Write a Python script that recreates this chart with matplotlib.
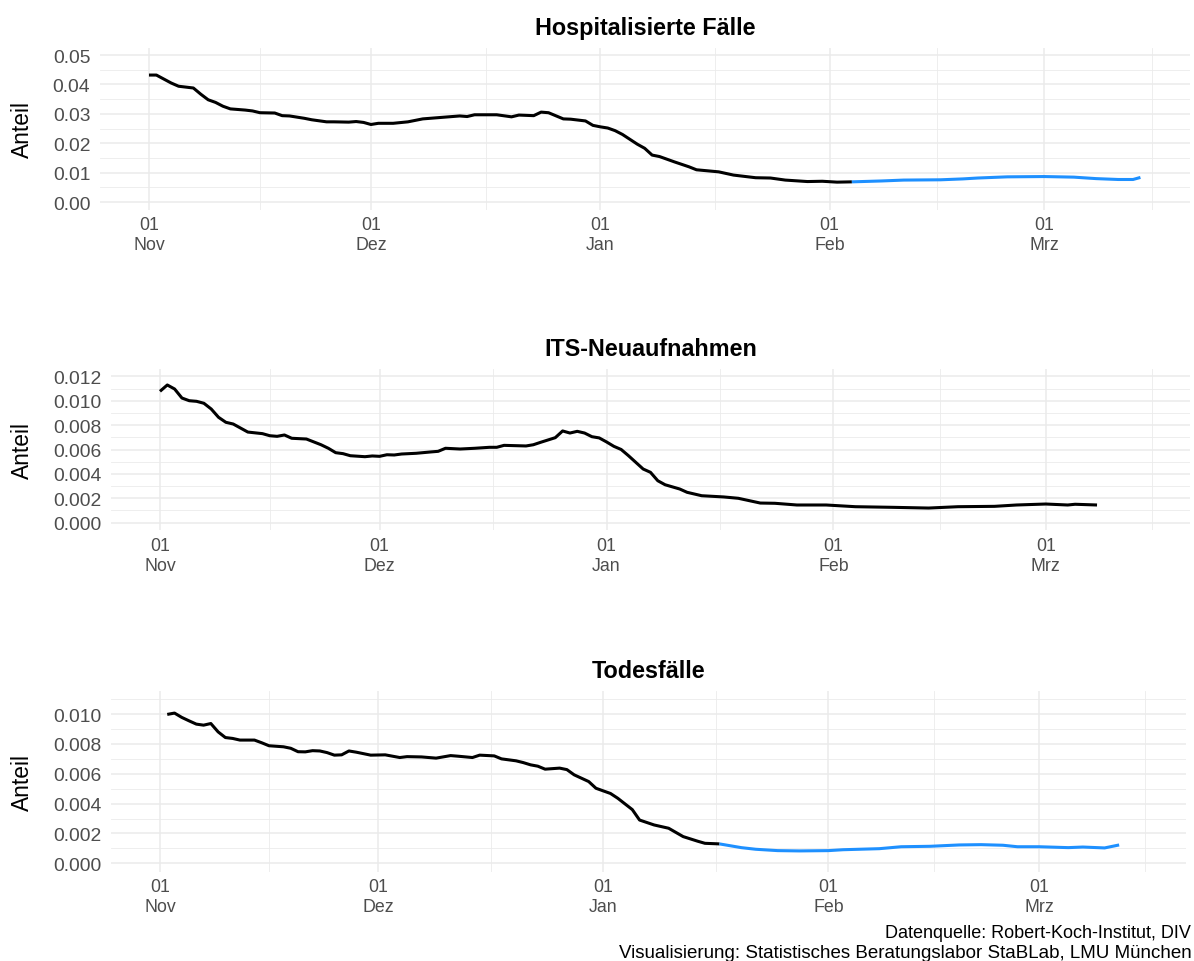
import numpy as np
import matplotlib
matplotlib.use("Agg")
import matplotlib.pyplot as plt
import matplotlib.dates as mdates
from matplotlib.ticker import FixedLocator, FixedFormatter

plt.rcParams['font.family'] = ['Liberation Sans', 'DejaVu Sans']

# ---------------- data (day offsets from START) -------------
START = np.datetime64('2023-11-01')

HOSP_DAYS = [0, 1, 3, 4, 6, 7, 8, 9, 10, 11, 13, 14, 15, 17, 18, 19, 21, 22, 24, 25,
             27, 28, 29, 30, 31, 33, 35, 37, 39, 40, 42, 43, 44, 47, 49, 50, 52, 53, 54,
             56, 57, 59, 60, 61, 62, 63, 64, 66, 67, 68, 69, 71, 73, 74, 77, 79, 82, 84,
             86, 89, 91, 93, 95]
HOSP_VALS = [0.0432, 0.0432, 0.0405, 0.0394, 0.0388, 0.0367, 0.0348, 0.0339, 0.0326, 0.0317,
             0.0313, 0.0310, 0.0304, 0.0303, 0.0294, 0.0293, 0.0285, 0.0280, 0.0273, 0.0273,
             0.0272, 0.0274, 0.0271, 0.0264, 0.0268, 0.0268, 0.0273, 0.0283, 0.0287, 0.0289,
             0.0293, 0.0291, 0.0297, 0.0297, 0.0290, 0.0296, 0.0294, 0.0306, 0.0304,
             0.0283, 0.0282, 0.0276, 0.0261, 0.0256, 0.0252, 0.0243, 0.0230, 0.0197, 0.0183,
             0.0160, 0.0155, 0.0137, 0.0120, 0.0110, 0.0103, 0.0092, 0.0083, 0.0082,
             0.0075, 0.0070, 0.0071, 0.0068, 0.0069]
HOSP_NOW_DAYS = [95, 99, 102, 107, 110, 112, 116, 121, 125, 128, 131, 133, 134]
HOSP_NOW_VALS = [0.0069, 0.0072, 0.0075, 0.0076, 0.0079, 0.0082, 0.0086, 0.0087, 0.0085,
                 0.0080, 0.0077, 0.0077, 0.0084]

ITS_DAYS = [0, 1, 2, 3, 4, 5, 6, 7, 8, 9, 10, 11, 12, 14, 15, 16, 17, 18, 20, 22, 23, 24,
            25, 26, 28, 29, 30, 31, 32, 33, 35, 37, 38, 39, 41, 43, 45, 46, 47, 50, 51, 52,
            54, 55, 56, 57, 58, 59, 60, 61, 62, 63, 64, 66, 67, 68, 69, 71, 72, 74, 77,
            79, 82, 84, 87, 91, 95, 100, 105, 109, 114, 117, 121, 124, 125, 128]
ITS_VALS = [0.01077, 0.01129, 0.01096, 0.01022, 0.01000, 0.00995, 0.00979, 0.00932, 0.00864,
            0.00823, 0.00809, 0.00776, 0.00743, 0.00730, 0.00713, 0.00708, 0.00719, 0.00692,
            0.00686, 0.00639, 0.00610, 0.00574, 0.00566, 0.00549, 0.00541, 0.00547, 0.00544,
            0.00557, 0.00555, 0.00563, 0.00569, 0.00580, 0.00585, 0.00610, 0.00604, 0.00610,
            0.00618, 0.00618, 0.00634, 0.00629, 0.00639, 0.00659, 0.00697, 0.00752, 0.00735,
            0.00749, 0.00735, 0.00705, 0.00695, 0.00662, 0.00626, 0.00600, 0.00549, 0.00440,
            0.00413, 0.00344, 0.00311, 0.00276, 0.00249, 0.00221, 0.00211, 0.00200, 0.00161,
            0.00159, 0.00145, 0.00145, 0.00131, 0.00126, 0.00120, 0.00131, 0.00134, 0.00145,
            0.00153, 0.00145, 0.00151, 0.00145]

DEATH_DAYS = [1, 2, 3, 4, 5, 6, 7, 8, 9, 10, 11, 13, 14, 15, 17, 18, 19, 20, 21, 22, 23, 24,
              25, 26, 27, 29, 31, 33, 34, 36, 38, 40, 41, 43, 44, 46, 47, 49, 50, 51, 52, 53,
              55, 56, 57, 59, 60, 62, 63, 65, 66, 68, 70, 72, 74, 75, 77]
DEATH_VALS = [0.00998, 0.01007, 0.00978, 0.00955, 0.00933, 0.00926, 0.00937, 0.00881,
              0.00843, 0.00837, 0.00826, 0.00826, 0.00808, 0.00788, 0.00781, 0.00771,
              0.00748, 0.00747, 0.00755, 0.00753, 0.00742, 0.00725, 0.00727, 0.00753,
              0.00745, 0.00725, 0.00727, 0.00709, 0.00715, 0.00713, 0.00705, 0.00722,
              0.00718, 0.00709, 0.00725, 0.00720, 0.00700, 0.00687, 0.00675, 0.00660,
              0.00651, 0.00631, 0.00638, 0.00628, 0.00593, 0.00548, 0.00503, 0.00468,
              0.00436, 0.00360, 0.00290, 0.00257, 0.00235, 0.00179, 0.00148, 0.00134, 0.00130]
DEATH_NOW_DAYS = [77, 80, 82, 85, 88, 92, 94, 99, 102, 106, 110, 113, 116, 118, 121, 125,
                  127, 130, 132]
DEATH_NOW_VALS = [0.00130, 0.00105, 0.00094, 0.00085, 0.00083, 0.00085, 0.00091, 0.00098,
                  0.00111, 0.00114, 0.00123, 0.00125, 0.00121, 0.00111, 0.00111, 0.00105,
                  0.00109, 0.00103, 0.00123]

TITLES = ["Hospitalisierte Fälle", "ITS-Neuaufnahmen", "Todesfälle"]
Y_LABEL = "Anteil"
MAJOR_DATES = ['2023-11-01', '2023-12-01', '2024-01-01', '2024-02-01', '2024-03-01']
MAJOR_LABELS = ["01\nNov", "01\nDez", "01\nJan", "01\nFeb", "01\nMrz"]
Y_TICKS = [[0.00, 0.01, 0.02, 0.03, 0.04, 0.05],
           [0.000, 0.002, 0.004, 0.006, 0.008, 0.010, 0.012],
           [0.000, 0.002, 0.004, 0.006, 0.008, 0.010]]
Y_FMT = ["{:.2f}", "{:.3f}", "{:.3f}"]
CAPTION_1 = "Datenquelle: Robert-Koch-Institut, DIV"
CAPTION_2 = "Visualisierung: Statistisches Beratungslabor StaBLab, LMU München"

# ---------------- layout ----------------
W, H = 1194, 962
fig = plt.figure(figsize=(W / 100, H / 100), dpi=100)
fig.patch.set_facecolor('white')

# (left, right, top, bottom) in pixels, ylim, xlim in days
PANELS = [
    dict(box=(100, 1190, 48.7, 210.5), ylim=(-0.0025, 0.0525), xlim=(-6.62, 140.7)),
    dict(box=(111, 1190, 370, 531), ylim=(-0.0006, 0.0126), xlim=(-6.69, 140.7)),
    dict(box=(111, 1186, 692, 872.5), ylim=(-0.00055, 0.01155), xlim=(-6.74, 141.2)),
]

start_num = mdates.date2num(START)
major_nums = [mdates.date2num(np.datetime64(d)) for d in MAJOR_DATES]
minor_nums = [(a + b) / 2 for a, b in zip(major_nums[:-1], major_nums[1:])]
minor_nums.append(major_nums[-1] + (major_nums[-1] - major_nums[-2]) / 2)

series = [
    [(HOSP_DAYS, HOSP_VALS, 'black'), (HOSP_NOW_DAYS, HOSP_NOW_VALS, '#1E90FF')],
    [(ITS_DAYS, ITS_VALS, 'black')],
    [(DEATH_DAYS, DEATH_VALS, 'black'), (DEATH_NOW_DAYS, DEATH_NOW_VALS, '#1E90FF')],
]

GRID = '#EBEBEB'
for i, p in enumerate(PANELS):
    l, r, t, b = p['box']
    ax = fig.add_axes([l / W, 1 - b / H, (r - l) / W, (b - t) / H])
    for s in ax.spines.values():
        s.set_visible(False)
    for days, vals, col in series[i]:
        dates = START + np.array(days, dtype='timedelta64[D]')
        ax.plot(dates, vals, color=col, lw=2.2, solid_capstyle='butt', zorder=3)
    ax.set_xlim(start_num + p['xlim'][0], start_num + p['xlim'][1])
    ax.set_ylim(*p['ylim'])

    ax.xaxis.set_major_locator(FixedLocator(major_nums))
    ax.xaxis.set_major_formatter(FixedFormatter(MAJOR_LABELS))
    ax.xaxis.set_minor_locator(FixedLocator(minor_nums))
    yt = Y_TICKS[i]
    ax.yaxis.set_major_locator(FixedLocator(yt))
    ax.yaxis.set_major_formatter(FixedFormatter([Y_FMT[i].format(v) for v in yt]))
    step = yt[1] - yt[0]
    ax.yaxis.set_minor_locator(FixedLocator([v + step / 2 for v in yt]))

    ax.grid(which='major', color=GRID, lw=1.15, zorder=0)
    ax.grid(which='minor', color=GRID, lw=0.6, zorder=0)
    ax.set_axisbelow(True)
    ax.tick_params(which='both', length=0)
    ax.tick_params(axis='x', labelsize=12.8, labelcolor='#4D4D4D', pad=5)
    ax.tick_params(axis='y', labelsize=13.9, labelcolor='#4D4D4D', pad=7)
    for lab in ax.get_xticklabels():
        lab.set_linespacing(1.2)

    # title
    fig.text(((l + r) / 2) / W, 1 - (t - 13.5) / H, TITLES[i], ha='center', va='baseline',
             fontsize=16.8, fontweight='bold', color='black')
    # y label
    fig.text(22.5 / W, 1 - ((t + b) / 2) / H, Y_LABEL, ha='center', va='center',
             rotation=90, fontsize=16.4, color='black')

fig.text(1191 / W, 1 - 938.5 / H, CAPTION_1, ha='right', va='baseline', fontsize=13.0,
         color='black')
fig.text(1192 / W, 1 - 958.5 / H, CAPTION_2, ha='right', va='baseline', fontsize=13.5,
         color='black')

fig.savefig('out.png', dpi=100, facecolor='white')
